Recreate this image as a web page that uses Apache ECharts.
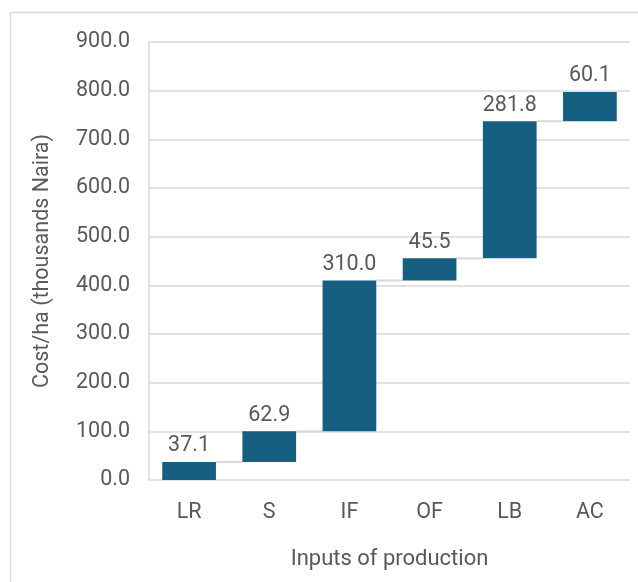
<!DOCTYPE html>
<html>
<head>
<meta charset="utf-8">
<style>
  html, body { margin: 0; padding: 0; background: #ffffff; }
  #chart { width: 638px; height: 582px; }
</style>
<script src="https://cdn.jsdelivr.net/npm/echarts@6/dist/echarts.min.js"></script>
</head>
<body>
<div id="chart"></div>
<script>
// Cost components per hectare (thousands Naira)
const categories = ['LR', 'S', 'IF', 'OF', 'LB', 'AC'];
const costValues = [37.1, 62.9, 310.0, 45.5, 281.8, 60.1];
const yTicks = { min: 0, max: 900, interval: 100 };

// Running totals: each step starts where the previous one ended
const baseValues = [];
const endValues = [];
let running = 0;
costValues.forEach(function (v) {
  baseValues.push(+running.toFixed(1));
  running += v;
  endValues.push(+running.toFixed(1));
});

const FONT = 'Roboto';
const FS = 21.5;
const TEXT = '#595959';
const GRID = '#d9d9d9';
const BAR = '#165f80';

const chart = echarts.init(document.getElementById('chart'), null, { renderer: 'canvas' });

chart.setOption({
  animation: false,
  backgroundColor: '#ffffff',
  graphic: [{
    type: 'rect',
    shape: { x: 10.5, y: 12.5, width: 700, height: 700 },
    style: { fill: 'none', stroke: GRID, lineWidth: 1.5 },
    silent: true
  }],
  grid: { left: 149, right: 8, top: 42, bottom: 102 },
  xAxis: {
    type: 'category',
    data: categories,
    name: 'Inputs of production',
    nameLocation: 'middle',
    nameGap: 68,
    nameTextStyle: { fontFamily: FONT, fontSize: 22, color: TEXT },
    axisLine: { show: false },
    axisTick: { show: false },
    axisLabel: { fontFamily: FONT, fontSize: FS, color: TEXT, margin: 22 }
  },
  yAxis: {
    type: 'value',
    min: yTicks.min,
    max: yTicks.max,
    interval: yTicks.interval,
    name: 'Cost/ha (thousands Naira)',
    nameLocation: 'middle',
    nameGap: 95,
    nameTextStyle: { fontFamily: FONT, fontSize: FS, color: TEXT },
    axisLine: { show: true, lineStyle: { color: GRID, width: 1.5 } },
    axisTick: { show: false },
    axisLabel: {
      fontFamily: FONT, fontSize: FS, color: TEXT, margin: 19,
      formatter: function (v) { return v.toFixed(1); }
    },
    splitLine: { lineStyle: { color: GRID, width: 1.5 } }
  },
  series: [
    {
      name: 'base',
      type: 'bar',
      stack: 'wf',
      data: baseValues,
      barCategoryGap: '33%',
      itemStyle: { color: 'transparent' },
      silent: true
    },
    {
      name: 'cost',
      type: 'bar',
      stack: 'wf',
      data: costValues,
      barCategoryGap: '33%',
      itemStyle: { color: BAR },
      label: {
        show: true,
        position: 'top',
        distance: 5,
        fontFamily: FONT,
        fontSize: FS,
        color: TEXT,
        formatter: function (p) { return p.value.toFixed(1); }
      }
    },
    {
      // connectors from the top of each step to the next bar
      name: 'connector',
      type: 'custom',
      silent: true,
      data: endValues.slice(0, -1).map(function (v, i) { return [i, v]; }),
      renderItem: function (params, api) {
        const i = api.value(0);
        const y = api.coord([i, api.value(1)])[1];
        const band = api.size([1, 0])[0];
        const half = band * 0.67 / 2;
        const x1 = api.coord([i, 0])[0] + half;
        const x2 = api.coord([i + 1, 0])[0] - half;
        return {
          type: 'line',
          shape: { x1: x1, y1: y, x2: x2, y2: y },
          style: { stroke: GRID, lineWidth: 2 }
        };
      },
      z: 1
    }
  ]
});
</script>
</body>
</html>
